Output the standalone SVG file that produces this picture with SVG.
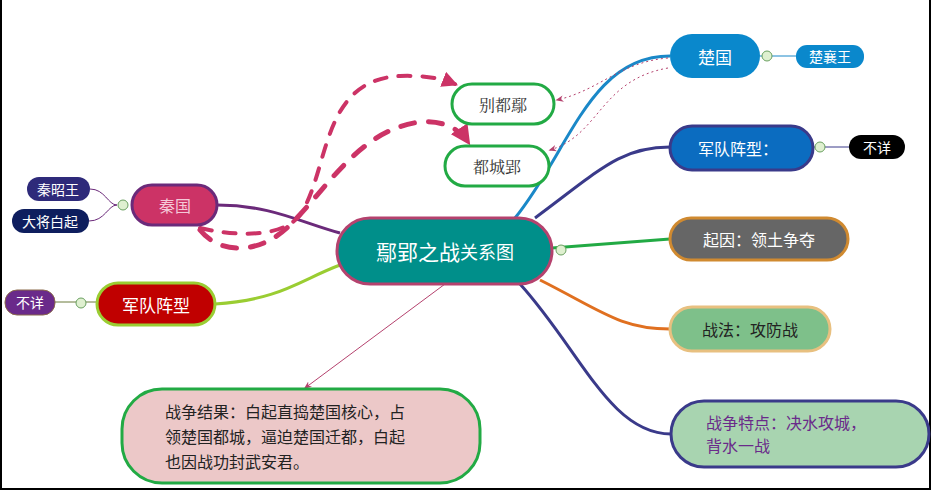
<svg xmlns="http://www.w3.org/2000/svg" width="933" height="492" viewBox="0 0 933 492">
<defs>
<style>
text{font-family:"Noto Sans CJK SC","Noto Sans",sans-serif;text-anchor:middle;dominant-baseline:central}
.w{fill:#fff}
.c{fill:#dff0d0;stroke:#6aa060;stroke-width:1}
.lk{fill:none;stroke-width:3}
</style>
<marker id="ap" viewBox="0 0 10 10" refX="8" refY="5" markerWidth="4" markerHeight="4" orient="auto"><path d="M0,0L10,5L0,10z" fill="#cc3366"/></marker>
<marker id="as" viewBox="0 0 10 10" refX="8" refY="5" markerWidth="8" markerHeight="8" orient="auto"><path d="M0,1L10,5L0,9L3,5z" fill="#b5426e"/></marker>
</defs>
<rect x="0" y="0" width="933" height="492" fill="#fff"/>
<rect x="1" y="-2" width="929" height="491" fill="none" stroke="#000" stroke-width="2"/>
<g id="connectors">
<path class="lk" stroke="#1a88c8" d="M515,218 C570,150 590,56 670,56"/>
<path class="lk" stroke="#3a3a8a" d="M535,218 C600,170 620,147 670,147"/>
<path class="lk" stroke="#22aa44" d="M552,248 L670,239"/>
<path class="lk" stroke="#e07020" d="M540,280 C600,310 620,329 670,329"/>
<path class="lk" stroke="#3a3a8a" d="M520,284 C580,350 610,434 671,434"/>
<path class="lk" stroke="#6b2a7a" d="M217,205 C270,205 300,222 340,233"/>
<path class="lk" stroke="#9acd32" d="M215,304 C280,300 300,280 340,265"/>
<path fill="none" stroke="#6b2a7a" stroke-width="1" d="M90,189 C105,189 108,205 117,205 M89,221 C105,221 108,205 117,205"/>
<path fill="none" stroke="#6a7a3a" stroke-width="1" d="M55,302 L97,302"/>
<path fill="none" stroke="#1a88c8" stroke-width="1" d="M760,56 L796,56"/>
<path fill="none" stroke="#3a3a8a" stroke-width="1" d="M813,147 L849,147"/>
<path fill="none" stroke="#b5426e" stroke-width="1" d="M445,284 L305,388" marker-end="url(#as)"/>
<path fill="none" stroke="#b5426e" stroke-width="1" stroke-dasharray="2,3" d="M668,58 C620,62 600,90 557,100" marker-end="url(#as)"/>
<path fill="none" stroke="#b5426e" stroke-width="1" stroke-dasharray="2,3" d="M668,68 C600,80 600,135 550,150" marker-end="url(#as)"/>
<path fill="none" stroke="#cc3366" stroke-width="4" stroke-dasharray="12,12" stroke-linecap="round" d="M200,228 C230,235 280,240 300,215 C330,170 320,80 400,76 C430,75 445,80 455,84" marker-end="url(#ap)"/>
<path fill="none" stroke="#cc3366" stroke-width="5" stroke-dasharray="14,14" stroke-linecap="round" d="M200,230 C220,255 260,255 290,225 C330,185 360,130 420,122 C445,120 460,130 468,142" marker-end="url(#ap)"/>
</g>
<g id="center"><rect x="337" y="218" width="215" height="66" rx="33" fill="#008f8a" stroke="#b5426e" stroke-width="3"/><text x="445" y="251" class="w" font-size="21">鄢郢之战<tspan font-size="18">关系图</tspan></text><circle class="c" cx="561" cy="250" r="5"/></g>
<g id="qin"><rect x="132" y="185" width="85" height="40" rx="20" fill="#cc3366" stroke="#6b2a7a" stroke-width="3"/><text x="175" y="205" fill="#f4c8d8" font-size="16">秦国</text><circle class="c" cx="123" cy="205" r="5"/></g>
<g id="qinzhao"><rect x="27" y="177" width="63" height="24" rx="12" fill="#2e2a7a"/><text x="58" y="189" class="w" font-size="14">秦昭王</text></g>
<g id="baiqi"><rect x="12" y="209" width="77" height="24" rx="12" fill="#0e1e5e"/><text x="50" y="221" class="w" font-size="14">大将白起</text></g>
<g id="army-left"><rect x="97" y="283" width="118" height="42" rx="21" fill="#c00000" stroke="#9acd32" stroke-width="3"/><text x="156" y="304" class="w" font-size="17">军队阵型</text><circle class="c" cx="81" cy="303" r="5"/></g>
<g id="unk-left"><rect x="5" y="290" width="50" height="25" rx="12" fill="#6a2a8a" stroke="#8a6a4a" stroke-width="1"/><text x="30" y="302" class="w" font-size="14">不详</text></g>
<g id="biedu"><rect x="452" y="84" width="102" height="40" rx="20" fill="#fff" stroke="#22aa44" stroke-width="3"/><text x="503" y="104" fill="#333" font-size="16" style="font-family:'Noto Serif CJK SC','Liberation Serif',serif">别都鄢</text></g>
<g id="ducheng"><rect x="445" y="146" width="104" height="40" rx="20" fill="#fff" stroke="#22aa44" stroke-width="3"/><text x="497" y="166" fill="#333" font-size="16" style="font-family:'Noto Serif CJK SC','Liberation Serif',serif">都城郢</text></g>
<g id="chu"><rect x="670" y="34" width="90" height="44" rx="22" fill="#0a88cc"/><text x="715" y="56" class="w" font-size="17">楚国</text><circle class="c" cx="767" cy="56" r="5"/></g>
<g id="chuxiang"><rect x="796" y="45" width="68" height="23" rx="11" fill="#0a88cc"/><text x="830" y="56" class="w" font-size="14">楚襄王</text></g>
<g id="army-right"><rect x="670" y="126" width="143" height="44" rx="22" fill="#0b6cc0" stroke="#3a3a8a" stroke-width="3"/><text x="738" y="148" class="w" font-size="16">军队阵型：</text><circle class="c" cx="820" cy="147" r="5"/></g>
<g id="unk-right"><rect x="849" y="135" width="56" height="24" rx="12" fill="#000"/><text x="877" y="147" class="w" font-size="14">不详</text></g>
<g id="cause"><rect x="670" y="218" width="178" height="42" rx="21" fill="#666" stroke="#d08a30" stroke-width="3"/><text x="759" y="239" class="w" font-size="16">起因：领土争夺</text></g>
<g id="tactic"><rect x="670" y="307" width="160" height="44" rx="22" fill="#7ec08a" stroke="#e8c080" stroke-width="3"/><text x="750" y="329" fill="#222" font-size="16">战法：攻防战</text></g>
<g id="feature"><rect x="671" y="401" width="258" height="66" rx="33" fill="#a8d4b0" stroke="#3a3a8a" stroke-width="3"/><text fill="#6a2a8a" font-size="16" style="text-anchor:start"><tspan x="706" y="422">战争特点：决水攻城，</tspan><tspan x="706" y="445">背水一战</tspan></text></g>
<g id="result"><rect x="122" y="389" width="358" height="94" rx="40" fill="#ecc8c8" stroke="#22aa44" stroke-width="3"/><text fill="#222" font-size="16" style="text-anchor:start"><tspan x="165" y="411">战争结果：白起直捣楚国核心，占</tspan><tspan x="165" y="436">领楚国都城，逼迫楚国迁都，白起</tspan><tspan x="165" y="461">也因战功封武安君。</tspan></text></g>
</svg>
